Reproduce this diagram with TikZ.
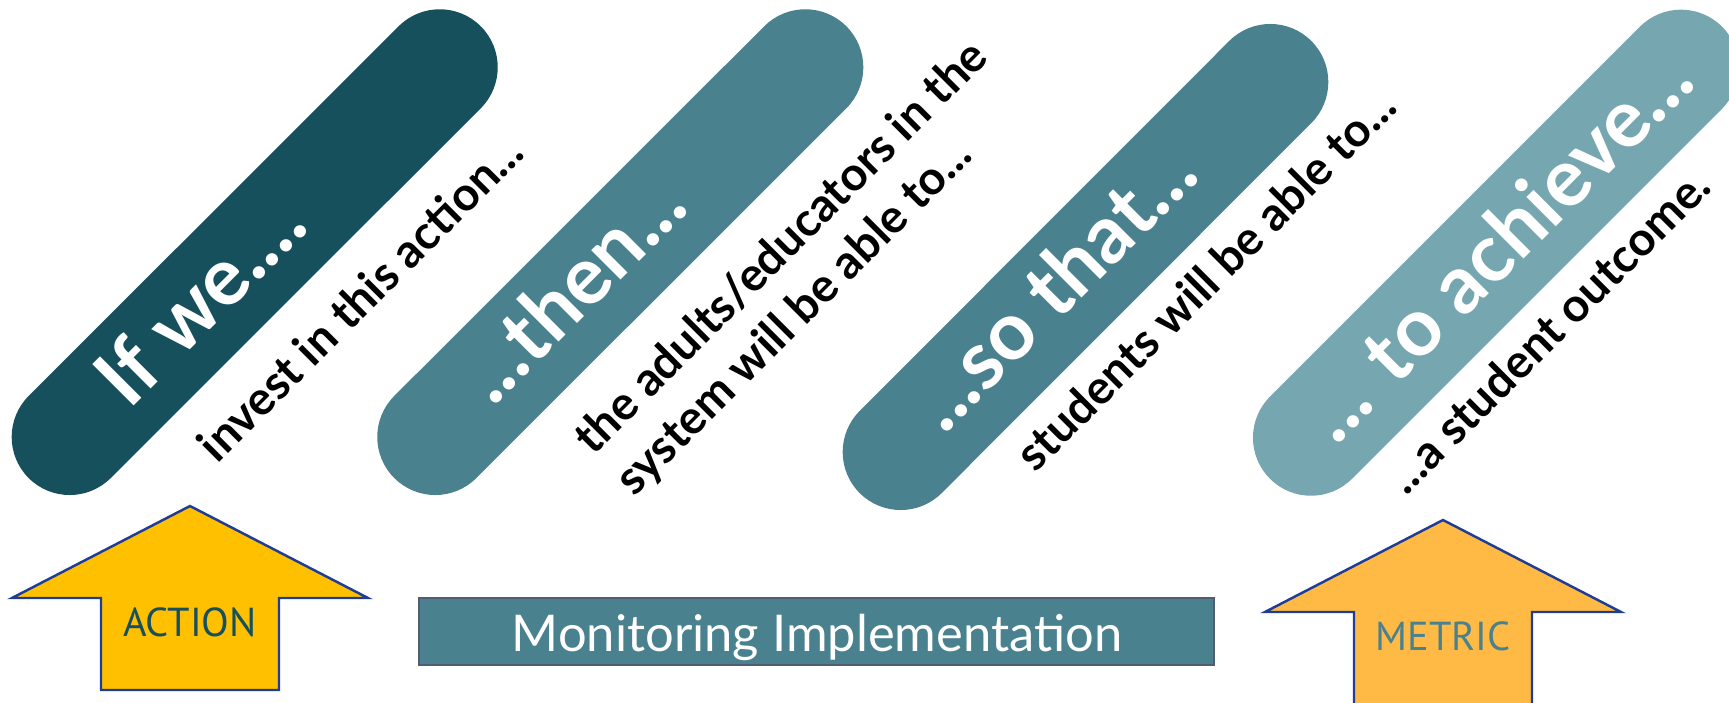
\documentclass[tikz,border=0pt]{standalone}
\usepackage{fontspec}
\setmainfont{Lato}
\newfontfamily\arrowfont{PT Sans}

\definecolor{tealdark}{HTML}{17505D}
\definecolor{tealmid}{HTML}{4A818F}
\definecolor{teallight}{HTML}{76A6B0}
\definecolor{gold}{HTML}{FFC000}
\definecolor{amber}{HTML}{FFBA45}
\definecolor{edgeblue}{HTML}{1F3C96}
\definecolor{edgegray}{HTML}{505D70}

\tikzset{
  pill/.style={line width=1.16cm, line cap=round},
  pilltext/.style={rotate=45, anchor=base, inner sep=0pt, text=white,
    font=\fontsize{23}{27}\selectfont\bfseries},
  steptext/.style={rotate=45, anchor=base, inner sep=0pt, align=left,
    font=\fontsize{13.3}{16.5}\selectfont\bfseries},
  uparrow/.style={draw=edgeblue, line width=0.7pt},
  arrowlabel/.style={font=\fontsize{11.5}{13}\selectfont\arrowfont},
}

\begin{document}
\begin{tikzpicture}[x=0.01cm, y=-0.01cm]
\useasboundingbox (0,0) rectangle (1729,703);
\clip (0,0) rectangle (1729,703);

% pill ends
\coordinate (ifA) at (69.7,437);
\coordinate (ifB) at (439.7,67.3);
\coordinate (thenA) at (435.3,437);
\coordinate (thenB) at (805.3,67.3);
\coordinate (soA) at (900.7,452);
\coordinate (soB) at (1270.3,82);
\coordinate (achA) at (1311,437.7);
\coordinate (achB) at (1681,67.7);

\draw[pill, tealdark] (ifA) -- (ifB);
\draw[pill, tealmid] (thenA) -- (thenB);
\draw[pill, tealmid] (soA) -- (soB);
\draw[pill, teallight] (achA) -- (achB);

\node[pilltext] (ifwe) at (220,320) {If we....};
\node[pilltext] (then) at (592,309) {...then...};
\node[pilltext] (sothat) at (1073,307) {...so that...};
\node[pilltext] (achieve) at (1517,266) {... to achieve...};

% base of a two-line node sits on its last line
\node[steptext] (invest) at (372,310) {invest in this action...};
\node[steptext] (adults) at (833,299) {the adults/educators in the\\system will be able to...};
\node[steptext] (students) at (1217.5,292) {students will be able to...};
\node[steptext] (outcome) at (1560,343) {...a student outcome.};

% arrows and the bar
\draw[uparrow, fill=gold] (190,506) -- (368,598) -- (279,598) -- (279,690)
  -- (101,690) -- (101,598) -- (12,598) -- cycle;
\node[arrowlabel, text=tealdark] (action) at (190,622) {ACTION};

\draw[uparrow, fill=amber] (1443,520) -- (1621,612) -- (1532,612) -- (1532,720)
  -- (1354,720) -- (1354,612) -- (1265,612) -- cycle;
\node[arrowlabel, text=tealmid] (metric) at (1443,636) {METRIC};

\node[draw=edgegray, fill=tealmid, line width=0.6pt, minimum width=7.95cm,
  minimum height=0.67cm, inner sep=0pt] (monitor) at (816.5,631.5) {};
\node[anchor=base, text=white, font=\fontsize{14.4}{17}\selectfont] (montext)
  at (817,651.7) {Monitoring Implementation};

\end{tikzpicture}
\end{document}
